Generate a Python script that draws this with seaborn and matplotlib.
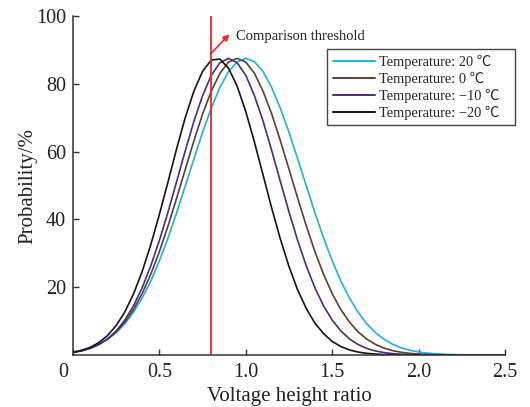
import numpy as np
import pandas as pd
import matplotlib
matplotlib.use("Agg")
import matplotlib.pyplot as plt
import matplotlib.transforms as mtransforms
import seaborn as sns

# Voltage height ratio grid shared by all curves
ratio = np.round(np.arange(0, 2.501, 0.05), 2)

# Probability (%) at each ratio for each ambient temperature
prob_20 = [0.89, 1.39, 2.12, 3.17, 4.63, 6.6, 9.2, 12.6, 16.8, 21.8,
           27.8, 34.5, 42.0, 49.9, 57.9, 65.7, 72.8, 78.9, 83.6, 86.5,
           87.5, 86.5, 83.6, 78.9, 72.8, 65.7, 57.9, 49.9, 42.0, 34.5,
           27.8, 21.8, 16.8, 12.6, 9.2, 6.6, 4.63, 3.17, 2.12, 1.39,
           0.89, 0.55, 0.34, 0.20, 0.12, 0.07, 0.04, 0.02, 0.01, 0, 0]
prob_0 = [0.80, 1.29, 2.04, 3.13, 4.69, 6.8, 9.7, 13.4, 18.1, 23.8,
          30.5, 38.1, 46.3, 54.8, 63.2, 71.1, 77.8, 83.1, 86.4, 87.5,
          86.4, 83.1, 77.8, 71.1, 63.2, 54.8, 46.3, 38.1, 30.5, 23.8,
          18.1, 13.4, 9.7, 6.8, 4.69, 3.13, 2.04, 1.29, 0.80, 0.48,
          0.28, 0.16, 0.09, 0.05, 0.02, 0, 0, 0, 0, 0, 0]
prob_m10 = [0.71, 1.19, 1.95, 3.09, 4.75, 7.10, 10.3, 14.5, 19.8, 26.3,
            33.8, 42.2, 51.2, 60.3, 69.0, 76.5, 82.5, 86.2, 87.5, 86.2,
            82.5, 76.5, 69.0, 60.3, 51.2, 42.2, 33.8, 26.3, 19.8, 14.5,
            10.3, 7.10, 4.75, 3.09, 1.95, 1.19, 0.71, 0.41, 0.23, 0.12,
            0.06, 0.03, 0, 0, 0, 0, 0, 0, 0, 0, 0]
prob_m20 = [0.78, 1.35, 2.26, 3.67, 5.75, 8.71, 12.7, 18.0, 24.6, 32.5,
            41.5, 51.1, 60.9, 70.1, 77.9, 83.7, 87.0, 87.3, 84.6, 79.3,
            71.8, 62.8, 53.1, 43.3, 34.2, 26.1, 19.2, 13.7, 9.4, 6.3,
            4.0, 2.5, 1.5, 0.87, 0.49, 0.26, 0.14, 0.07, 0.03, 0.02,
            0, 0, 0, 0, 0, 0, 0, 0, 0, 0, 0]

series_labels = ["Temperature: 20 \u2103", "Temperature: 0 \u2103",
                 "Temperature: \u221210 \u2103", "Temperature: \u221220 \u2103"]
series_values = [prob_20, prob_0, prob_m10, prob_m20]
series_colors = ["#1eb0e6", "#5c4035", "#4a2d80", "#141414"]

x_ticks = [0, 0.5, 1.0, 1.5, 2.0, 2.5]
x_tick_labels = ["0", "0.5", "1.0", "1.5", "2.0", "2.5"]
y_ticks = [20, 40, 60, 80, 100]
threshold = 0.8

df = pd.concat(
    [pd.DataFrame({"ratio": ratio, "prob": vals, "series": lab})
     for lab, vals in zip(series_labels, series_values)],
    ignore_index=True,
)

sns.set_theme(style="ticks")
plt.rcParams["font.family"] = ["Liberation Serif", "Noto Sans CJK SC", "DejaVu Sans"]
plt.rcParams["axes.unicode_minus"] = True

fig = plt.figure(figsize=(5.30, 4.07), dpi=100)
ax = fig.add_axes([73 / 530, 52 / 407, 432 / 530, 339 / 407])

sns.lineplot(data=df, x="ratio", y="prob", hue="series", hue_order=series_labels,
             palette=dict(zip(series_labels, series_colors)), linewidth=1.2,
             errorbar=None, ax=ax)

red = "#e8262b"
ax.axvline(threshold, color=red, linewidth=1.3, zorder=5)
ax.annotate("", xy=(0.905, 94.6), xytext=(threshold, 89.0),
            arrowprops=dict(arrowstyle="-|>", color=red, lw=1.2,
                            mutation_scale=9, shrinkA=0, shrinkB=0))
ax.text(0.945, 94.0, "Comparison threshold", fontsize=10.5, va="center",
        ha="left", color="#222222")

ax.set_xlim(0, 2.5)
ax.set_ylim(0, 100)
ax.set_xticks(x_ticks)
ax.set_xticklabels(x_tick_labels)
ax.set_yticks(y_ticks)
ax.tick_params(direction="in", length=4, width=1.0, colors="#333333",
               labelsize=14.5, labelcolor="#222222")
ax.tick_params(axis="x", pad=6)
ax.tick_params(axis="y", pad=5)
for side in ("top", "right"):
    ax.spines[side].set_visible(False)
for side in ("left", "bottom"):
    ax.spines[side].set_color("#333333")
    ax.spines[side].set_linewidth(1.1)

# the origin label sits at the corner, left of the y axis
shift = mtransforms.ScaledTranslation(-10 / 100, 0, fig.dpi_scale_trans)
first = ax.get_xticklabels()[0]
first.set_transform(first.get_transform() + shift)

ax.set_xlabel("Voltage height ratio", fontsize=15, color="#222222", labelpad=3)
ax.set_ylabel("Probability/%", fontsize=15, color="#222222", labelpad=-1)

handles, labels = ax.get_legend_handles_labels()
leg = ax.legend(handles, labels, loc="upper left", mode="expand",
                bbox_to_anchor=(327 / 530, 1 - 124 / 407, 188 / 530, 75 / 407),
                bbox_transform=fig.transFigure, fontsize=10.4, frameon=True,
                fancybox=False, edgecolor="#444444", framealpha=1,
                handlelength=2.9, handletextpad=0.3, labelspacing=0.18,
                borderpad=0.4, borderaxespad=0)
leg.get_frame().set_linewidth(1.0)
for line in leg.get_lines():
    line.set_linewidth(1.4)

fig.savefig("out.png", dpi=100)
